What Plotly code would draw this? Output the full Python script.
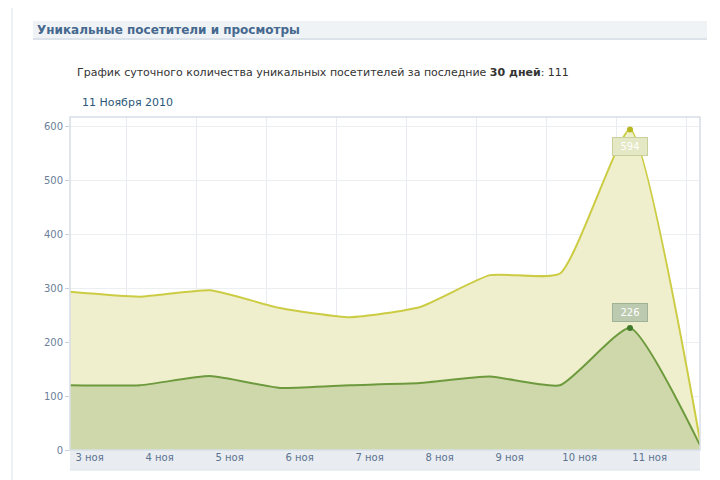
import plotly.graph_objects as go

# Data
days = ["3 ноя", "4 ноя", "5 ноя", "6 ноя", "7 ноя", "8 ноя", "9 ноя", "10 ноя", "11 ноя", "12 ноя"]
views = [293, 284, 296, 263, 246, 265, 324, 327, 594, 18]
visitors = [120, 120, 137, 115, 120, 124, 136, 120, 226, 9]
y_ticks = [0, 100, 200, 300, 400, 500, 600]

x = list(range(len(days)))
peak = 8

fig = go.Figure()
fig.add_trace(go.Scatter(
    x=x, y=views, mode="lines", fill="tozeroy",
    fillcolor="#efefcd", line=dict(color="#cccc44", width=2, shape="spline", smoothing=0.5),
    hoverinfo="skip", showlegend=False))
fig.add_trace(go.Scatter(
    x=x, y=visitors, mode="lines", fill="tozeroy",
    fillcolor="#cfd8aa", line=dict(color="#6e9a3e", width=2, shape="spline", smoothing=0.5),
    hoverinfo="skip", showlegend=False))
fig.add_trace(go.Scatter(
    x=[x[peak]], y=[views[peak]], mode="markers",
    marker=dict(color="#b8b820", size=6), showlegend=False, hoverinfo="skip"))
fig.add_trace(go.Scatter(
    x=[x[peak]], y=[visitors[peak]], mode="markers",
    marker=dict(color="#3f7a2a", size=6), showlegend=False, hoverinfo="skip"))

# peak value boxes
fig.add_annotation(x=x[peak], y=views[peak], text=str(views[peak]), showarrow=False,
                   yshift=-17, font=dict(size=10, color="#ffffff", family="DejaVu Sans"),
                   bgcolor="#e4e8c4", bordercolor="#c9cf9a", borderwidth=1, borderpad=3,
                   width=28)
fig.add_annotation(x=x[peak], y=visitors[peak], text=str(visitors[peak]), showarrow=False,
                   yshift=16, font=dict(size=10, color="#ffffff", family="DejaVu Sans"),
                   bgcolor="#bccab0", bordercolor="#9fb296", borderwidth=1, borderpad=3,
                   width=28)

# x labels (centred to the right of each day point)
label_pos = [i + 0.28 for i in range(len(days) - 1)]

# page has an 8px body margin -> figure 712x472, plot area 630x333
fig.update_layout(
    width=712, height=472,
    margin=dict(l=62, r=20, t=109, b=30),
    paper_bgcolor="white", plot_bgcolor="white",
    font=dict(family="DejaVu Sans", size=9, color="#6b7f99"),
    xaxis=dict(range=[0, 9], tickmode="array", tickvals=label_pos, ticktext=days[:-1],
               showgrid=False, zeroline=False, ticks="", showline=False,
               tickfont=dict(size=10, color="#5b7390"),
               minor=dict(tickmode="linear", tick0=0.8, dtick=1, showgrid=True,
                          gridcolor="#e8ebef", gridwidth=1)),
    yaxis=dict(range=[0, 617], tickvals=y_ticks, showgrid=True, gridcolor="#eceff2",
               zeroline=False, ticks="outside", ticklen=4, tickcolor="#c8d0da",
               showline=False, tickfont=dict(size=10, color="#6b7f99")),
)

W, H = 630.0, 333.0


def py(pix):
    # screen y pixel -> paper coordinate
    return (450 - pix) / H


def px(pix):
    return (pix - 70) / W


# label band below the plot and frame
fig.add_shape(type="rect", xref="paper", yref="paper", x0=0, x1=1,
              y0=py(470), y1=0, fillcolor="#e9edf2", line=dict(width=0), layer="below")
fig.add_shape(type="line", xref="paper", yref="paper", x0=0, x1=1, y0=py(470), y1=py(470),
              line=dict(color="#dde3ea", width=1))
fig.add_shape(type="rect", xref="paper", yref="paper", x0=0, x1=1, y0=0, y1=1,
              line=dict(color="#d7dee6", width=1.5))
# header band and page border
fig.add_shape(type="rect", xref="paper", yref="paper", x0=px(33), x1=px(707),
              y0=py(39), y1=py(21), fillcolor="#f0f3f6", line=dict(width=0), layer="below")
fig.add_shape(type="line", xref="paper", yref="paper", x0=px(33), x1=px(707),
              y0=py(39), y1=py(39), line=dict(color="#dbe2ea", width=2))
fig.add_shape(type="line", xref="paper", yref="paper", x0=px(12), x1=px(12),
              y0=py(480), y1=py(-10), line=dict(color="#edf0f4", width=2))

fig.add_annotation(xref="paper", yref="paper", x=px(35), y=py(30), xanchor="left",
                   yanchor="middle", showarrow=False,
                   text="<b>Уникальные посетители и просмотры</b>",
                   font=dict(size=12, color="#45688e", family="DejaVu Sans"))
fig.add_annotation(xref="paper", yref="paper", x=px(75), y=py(72), xanchor="left",
                   yanchor="middle", showarrow=False,
                   text="График суточного количества уникальных посетителей за последние <b>30 дней</b>: 111",
                   font=dict(size=11, color="#333333", family="DejaVu Sans"))
fig.add_annotation(xref="paper", yref="paper", x=px(80), y=py(102), xanchor="left",
                   yanchor="middle", showarrow=False,
                   text="11 Ноября 2010",
                   font=dict(size=11, color="#2b587a", family="DejaVu Sans"))

fig.write_html("out.html")
